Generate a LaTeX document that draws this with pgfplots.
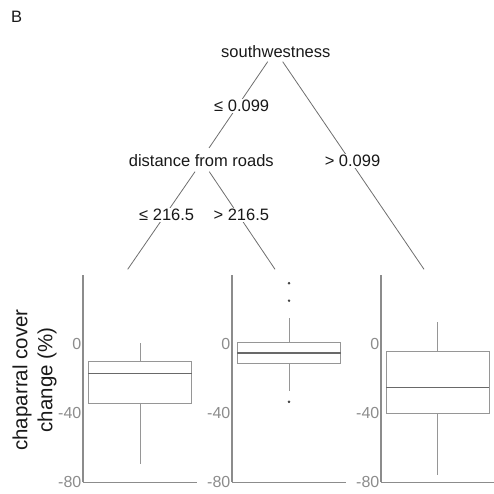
\documentclass[border=0pt]{standalone}
\usepackage{fontspec}
\setmainfont{Liberation Sans}
\usepackage{pgfplots}
\pgfplotsset{compat=1.18}
\usepgfplotslibrary{statistics}

\definecolor{axgray}{RGB}{140,140,140}
\definecolor{boxgray}{RGB}{150,150,150}
\definecolor{medgray}{RGB}{105,105,105}
\definecolor{treegray}{RGB}{110,110,110}
\definecolor{txt}{RGB}{25,25,25}

\pgfplotsset{
  leafaxis/.style={
    anchor=south west,
    scale only axis,
    width=114pt, height=207.6pt,
    xmin=0.5, xmax=1.5, ymin=-80, ymax=40,
    axis x line*=bottom, axis y line*=left,
    axis line style={axgray, line width=1.1pt, -},
    xtick=\empty,
    ytick={-80,-40,0}, yticklabels={-80,-40,0},
    major tick length=0pt,
    yticklabel style={font=\fontsize{16}{18}\selectfont, text=axgray, inner sep=1.5pt},
    boxplot/draw direction=y,
    boxplot/box extend=0.91,
    boxplot/whisker extend=0,
    boxplot/every box/.style={draw=boxgray, line width=0.8pt},
    boxplot/every whisker/.style={draw=boxgray, line width=0.8pt},
    boxplot/every median/.style={draw=medgray, line width=1.3pt},
  },
  leafplot/.style={mark=*, mark size=1pt, mark options={fill=black!75, draw=black!75}},
}

\begin{document}
\begin{tikzpicture}
\useasboundingbox (0,0) rectangle (494pt,493pt);

% terminal nodes: chaparral cover change
\begin{axis}[leafaxis, at={(83pt,10.8pt)}]
  \addplot+[leafplot, boxplot prepared={draw position=1,
    lower whisker=-69.5, lower quartile=-34.2, median=-17.3,
    upper quartile=-10.3, upper whisker=0.6}] coordinates {};
\end{axis}

\begin{axis}[leafaxis, at={(232pt,10.8pt)}]
  \addplot+[leafplot, boxplot prepared={draw position=1,
    lower whisker=-27.3, lower quartile=-11.3, median=-5.3,
    upper quartile=0.9, upper whisker=14.7}]
    coordinates {(0,35.0) (0,24.9) (0,-33.5)};
\end{axis}

\begin{axis}[leafaxis, at={(381pt,10.8pt)}, width=113pt]
  \addplot+[leafplot, boxplot prepared={draw position=1,
    lower whisker=-75.8, lower quartile=-40.2, median=-25.4,
    upper quartile=-4.6, upper whisker=12.8}] coordinates {};
\end{axis}

% tree edges
\begin{scope}[treegray, line width=0.8pt]
  \draw (267.7pt,431.3pt) -- (209pt,345pt);
  \draw (282.7pt,431.3pt) -- (424pt,223.7pt);
  \draw (195pt,321.3pt) -- (127.7pt,223.7pt);
  \draw (209.3pt,321.3pt) -- (275pt,223.7pt);
\end{scope}

% tree labels
\begin{scope}[every node/.style={font=\fontsize{16.5}{19}\selectfont, text=txt}]
  \node at (275.8pt,441.3pt) {southwestness};
  \node at (201.3pt,332pt) {distance from roads};
  \node[fill=white, inner sep=1pt] at (241.7pt,387pt) {≤ 0.099};
  \node[fill=white, inner sep=1pt] at (352.5pt,332pt) {> 0.099};
  \node[fill=white, inner sep=1pt] at (166.7pt,278pt) {≤ 216.5};
  \node[fill=white, inner sep=1pt] at (241.3pt,278pt) {> 216.5};
  \node at (16.7pt,476.3pt) {B};
\end{scope}

% y-axis title
\node[rotate=90, align=center, text=txt, font=\fontsize{20.5}{25}\selectfont]
  at (34.5pt,113pt) {chaparral cover\\change (\%)};
\end{tikzpicture}
\end{document}
